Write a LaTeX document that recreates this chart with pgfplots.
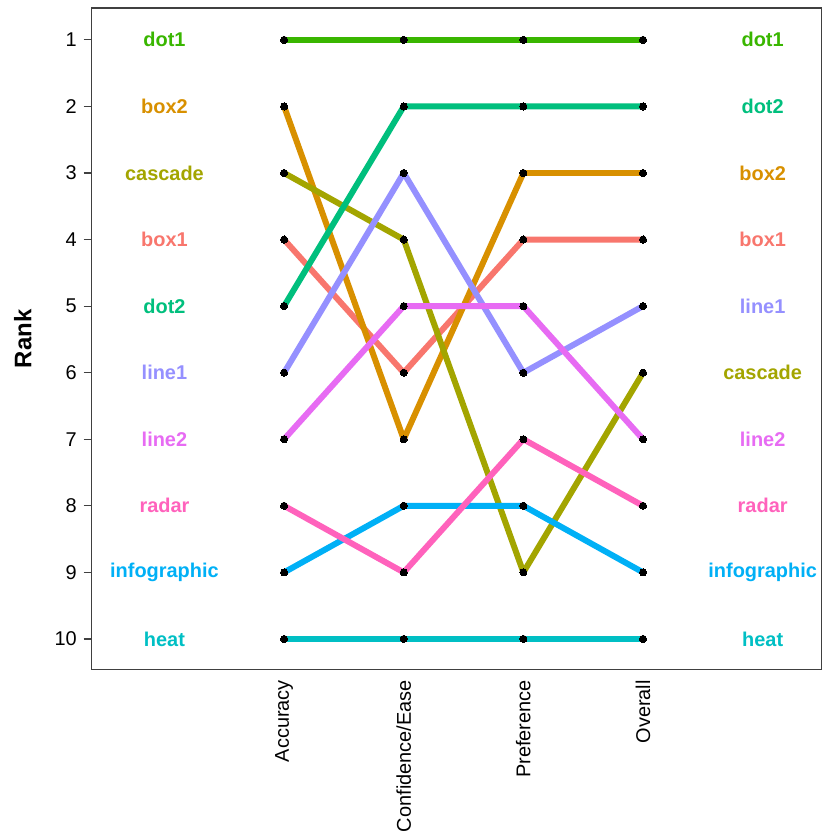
\documentclass[border=0pt]{standalone}
\usepackage{pgfplots}
\pgfplotsset{compat=1.18}
\usepackage{fontspec}
\setmainfont{Liberation Sans}

\definecolor{cbox1}{HTML}{F8766D}
\definecolor{cbox2}{HTML}{D89000}
\definecolor{ccascade}{HTML}{A3A500}
\definecolor{cdot1}{HTML}{39B600}
\definecolor{cdot2}{HTML}{00BF7D}
\definecolor{cheat}{HTML}{00BFC4}
\definecolor{cinfo}{HTML}{00B0F6}
\definecolor{cline1}{HTML}{9590FF}
\definecolor{cline2}{HTML}{E76BF3}
\definecolor{cradar}{HTML}{FF62BC}

\begin{document}
\begin{tikzpicture}
\begin{axis}[
  scale only axis,
  width=366pt, height=332pt,
  xmin=0.392, xmax=6.49,
  ymin=0.521, ymax=10.464,
  y dir=reverse,
  axis line style={black!75, line width=0.6pt},
  xtick={2,3,4,5},
  xticklabels={Accuracy,Confidence/Ease,Preference,Overall},
  x tick label style={rotate=90, anchor=east, font=\normalsize, inner xsep=0pt, xshift=-1pt},
  xtick style={draw=none},
  ytick={1,...,10},
  ytick pos=left,
  y tick label style={font=\normalsize},
  ytick style={black!75, line width=0.6pt},
  tick align=outside,
  major tick length=4pt,
  /pgf/number format/assume math mode=true,
  ylabel={\textbf{Rank}},
  ylabel style={font=\large, inner ysep=7pt, yshift=1pt},
  clip=false,
  every axis plot/.append style={line width=3pt, line join=round, no marks},
]
% lines (ranks at Accuracy, Confidence/Ease, Preference, Overall)
\addplot[cbox1]    coordinates {(2,4) (3,6) (4,4) (5,4)};
\addplot[cbox2]    coordinates {(2,2) (3,7) (4,3) (5,3)};
\addplot[ccascade] coordinates {(2,3) (3,4) (4,9) (5,6)};
\addplot[cdot1]    coordinates {(2,1) (3,1) (4,1) (5,1)};
\addplot[cdot2]    coordinates {(2,5) (3,2) (4,2) (5,2)};
\addplot[cheat]    coordinates {(2,10) (3,10) (4,10) (5,10)};
\addplot[cinfo]    coordinates {(2,9) (3,8) (4,8) (5,9)};
\addplot[cline1]   coordinates {(2,6) (3,3) (4,6) (5,5)};
\addplot[cline2]   coordinates {(2,7) (3,5) (4,5) (5,7)};
\addplot[cradar]   coordinates {(2,8) (3,9) (4,7) (5,8)};
% points
\addplot[only marks, mark=*, mark size=1.8pt, black, line width=0pt] coordinates {
  (2,1) (2,2) (2,3) (2,4) (2,5) (2,6) (2,7) (2,8) (2,9) (2,10)
  (3,1) (3,2) (3,3) (3,4) (3,5) (3,6) (3,7) (3,8) (3,9) (3,10)
  (4,1) (4,2) (4,3) (4,4) (4,5) (4,6) (4,7) (4,8) (4,9) (4,10)
  (5,1) (5,2) (5,3) (5,4) (5,5) (5,6) (5,7) (5,8) (5,9) (5,10)
};
% left labels (Accuracy order)
\begin{scope}[every node/.style={font=\normalsize\bfseries}]
\node[text=cdot1]    at (axis cs:1,1)  {dot1};
\node[text=cbox2]    at (axis cs:1,2)  {box2};
\node[text=ccascade] at (axis cs:1,3)  {cascade};
\node[text=cbox1]    at (axis cs:1,4)  {box1};
\node[text=cdot2]    at (axis cs:1,5)  {dot2};
\node[text=cline1]   at (axis cs:1,6)  {line1};
\node[text=cline2]   at (axis cs:1,7)  {line2};
\node[text=cradar]   at (axis cs:1,8)  {radar};
\node[text=cinfo]    at (axis cs:1,9)  {infographic};
\node[text=cheat]    at (axis cs:1,10) {heat};
% right labels (Overall order)
\node[text=cdot1]    at (axis cs:6,1)  {dot1};
\node[text=cdot2]    at (axis cs:6,2)  {dot2};
\node[text=cbox2]    at (axis cs:6,3)  {box2};
\node[text=cbox1]    at (axis cs:6,4)  {box1};
\node[text=cline1]   at (axis cs:6,5)  {line1};
\node[text=ccascade] at (axis cs:6,6)  {cascade};
\node[text=cline2]   at (axis cs:6,7)  {line2};
\node[text=cradar]   at (axis cs:6,8)  {radar};
\node[text=cinfo]    at (axis cs:6,9)  {infographic};
\node[text=cheat]    at (axis cs:6,10) {heat};
\end{scope}
\end{axis}
\end{tikzpicture}
\end{document}
